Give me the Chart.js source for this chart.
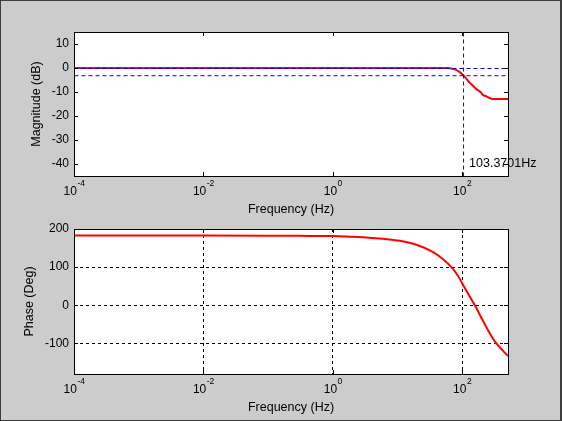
<!DOCTYPE html>
<html>
<head>
<meta charset="utf-8">
<script src="https://cdn.jsdelivr.net/npm/chart.js@4.4.0/dist/chart.umd.min.js"></script>
<style>
html,body{margin:0;padding:0;background:#cccccc;}
#wrap{position:relative;width:562px;height:421px;background:#cccccc;overflow:hidden;}
#wrap canvas{position:absolute;left:0;top:0;}
#frame{position:absolute;left:0;top:0;width:562px;height:421px;box-sizing:border-box;border:1px solid #3c3c3c;border-right-width:2px;pointer-events:none;}
</style>
</head>
<body>
<div id="wrap">
  <canvas id="c1" width="562" height="421"></canvas>
  <canvas id="c2" width="562" height="421"></canvas>
  <div id="frame"></div>
</div>
<script>
// ---- data ----
const xMinHz = 1e-4;
const xMaxHz = 512;
const xTickValues = [1e-4, 1e-2, 1, 100];
const xTickExponents = ['-4', '-2', '0', '2'];

const freqMagHz = [1e-4, 1e-2, 1, 10, 40, 60.7, 68, 76.9, 90, 103, 117, 131, 148, 166, 190, 210, 241, 270, 290, 350, 512];
const magDb     = [0, 0, 0, 0, 0, 0, -0.2, -0.6, -1.5, -2.9, -4.5, -6.1, -7.5, -8.8, -9.9, -11.2, -11.9, -12.6, -12.9, -12.9, -12.9];

const freqPhaseHz = [1e-4, 1e-3, 1e-2, 0.1, 0.3, 1, 1.8, 3.3, 6, 10.9, 19.7, 35.6, 50.8, 68.4, 86.5, 100, 117, 157, 210, 284, 339, 430, 512];
const phaseDeg    = [183, 183, 183, 182.5, 182, 181.5, 180, 178, 174.5, 169, 158.7, 139.5, 121, 100, 77, 58, 37.6, 0, -40.4, -80.8, -100, -119.5, -133];

const refLevelsDb = [0, -3];
const cutoffHz = 103.3701;

const magRange = [-45, 15];
const magTicks = [-40, -30, -20, -10, 0, 10];
const phaseRange = [-180, 200];
const phaseTicks = [-100, 0, 100, 200];

const FONT = '"Liberation Sans", Arial, sans-serif';

// ---- plugin drawing the MATLAB-style axes box, ticks, labels ----
function axesPlugin(cfg) {
  return {
    id: 'matlabAxes_' + cfg.id,
    beforeDraw(chart) {
      const a = chart.chartArea, ctx = chart.ctx;
      ctx.save();
      ctx.fillStyle = '#ffffff';
      ctx.fillRect(a.left, a.top, a.right - a.left, a.bottom - a.top);
      ctx.restore();
    },
    beforeDatasetDraw(chart, args) {
      chart.ctx.save();
      if (args.meta.dataset && args.meta.dataset.options.borderWidth === 1) {
        chart.ctx.translate(0.5, 0.5);
      }
    },
    afterDatasetDraw(chart) {
      chart.ctx.restore();
    },
    afterDraw(chart) {
      const a = chart.chartArea, ctx = chart.ctx;
      const xs = chart.scales.x, ys = chart.scales.y;
      ctx.save();
      // annotation text
      if (cfg.annot) {
        ctx.font = '12.5px ' + FONT;
        ctx.fillStyle = '#000';
        ctx.textAlign = 'left';
        ctx.textBaseline = 'middle';
        ctx.fillText(cfg.annot.text, xs.getPixelForValue(cfg.annot.x) + 6, ys.getPixelForValue(cfg.annot.y));
      }
      // box
      ctx.strokeStyle = '#000';
      ctx.lineWidth = 1;
      ctx.setLineDash([]);
      ctx.strokeRect(a.left + 0.5, a.top + 0.5, a.right - a.left, a.bottom - a.top);
      // inward ticks
      const tl = 4;
      ctx.beginPath();
      xTickValues.forEach(v => {
        const px = Math.round(xs.getPixelForValue(v)) + 0.5;
        ctx.moveTo(px, a.bottom); ctx.lineTo(px, a.bottom - tl);
        ctx.moveTo(px, a.top); ctx.lineTo(px, a.top + tl);
      });
      cfg.yTicks.forEach(v => {
        const py = Math.round(ys.getPixelForValue(v)) + 0.5;
        ctx.moveTo(a.left, py); ctx.lineTo(a.left + tl, py);
        ctx.moveTo(a.right, py); ctx.lineTo(a.right - tl, py);
      });
      ctx.stroke();
      // x tick labels 10^n
      ctx.fillStyle = '#000';
      ctx.textBaseline = 'middle';
      ctx.textAlign = 'left';
      xTickValues.forEach((v, i) => {
        const px = xs.getPixelForValue(v);
        ctx.font = '12px ' + FONT;
        const wb = ctx.measureText('10').width;
        ctx.font = '8.5px ' + FONT;
        const we = ctx.measureText(xTickExponents[i]).width;
        const x0 = px - (wb + we) / 2;
        ctx.font = '12px ' + FONT;
        ctx.fillText('10', x0, a.bottom + 16);
        ctx.font = '8.5px ' + FONT;
        ctx.fillText(xTickExponents[i], x0 + wb + 0.5, a.bottom + 8);
      });
      // x title
      ctx.font = '12.5px ' + FONT;
      ctx.textAlign = 'center';
      ctx.fillText(cfg.xTitle, (a.left + a.right) / 2, a.bottom + 34);
      // y title
      ctx.font = '12px ' + FONT;
      let mw = 0;
      cfg.yTicks.forEach(v => { mw = Math.max(mw, ctx.measureText(String(v)).width); });
      const tx = a.left - 5 - mw - 15;
      ctx.font = '12.5px ' + FONT;
      ctx.translate(tx, (a.top + a.bottom) / 2);
      ctx.rotate(-Math.PI / 2);
      ctx.textAlign = 'center';
      ctx.fillText(cfg.yTitle, 0, 0);
      ctx.restore();
    }
  };
}

function baseOptions(padTop, padBottom, yRange, yTicks, showGrid) {
  return {
    responsive: false,
    animation: false,
    events: [],
    layout: { padding: { top: padTop, bottom: padBottom, left: 0, right: 54 } },
    plugins: { legend: { display: false }, tooltip: { enabled: false } },
    elements: { point: { radius: 0 }, line: { tension: 0 } },
    scales: {
      x: {
        type: 'logarithmic',
        min: xMinHz, max: xMaxHz,
        afterBuildTicks: s => { s.ticks = xTickValues.map(v => ({ value: v })); },
        afterFit: s => { s.height = 0; },
        ticks: { display: false },
        grid: { display: showGrid, color: '#000', lineWidth: 1, drawTicks: false },
        border: { display: false, dash: [3, 3] }
      },
      y: {
        min: yRange[0], max: yRange[1],
        afterBuildTicks: s => { s.ticks = yTicks.map(v => ({ value: v })); },
        afterFit: s => { s.width = 74; },
        ticks: { color: '#000', font: { family: FONT, size: 12 }, padding: 5 },
        grid: { display: showGrid, color: '#000', lineWidth: 1, drawTicks: false },
        border: { display: false, dash: [3, 3] }
      }
    }
  };
}

// ---- magnitude chart ----
new Chart(document.getElementById('c1'), {
  type: 'line',
  data: {
    datasets: [
      ...refLevelsDb.map(l => ({
        data: [{ x: xMinHz, y: l }, { x: xMaxHz, y: l }],
        borderColor: '#0000ff', borderWidth: 1, borderDash: [4, 3], order: 1
      })),
      {
        data: [{ x: cutoffHz, y: magRange[0] }, { x: cutoffHz, y: magRange[1] }],
        borderColor: '#0000ff', borderWidth: 1, borderDash: [4, 3], order: 1
      },
      {
        data: freqMagHz.map((f, i) => ({ x: f, y: magDb[i] })),
        borderColor: '#ff0000', borderWidth: 2, order: 2, cubicInterpolationMode: 'monotone'
      }
    ]
  },
  options: baseOptions(32, 421 - 176, magRange, magTicks, false),
  plugins: [axesPlugin({ id: 'mag', yTicks: magTicks, xTitle: 'Frequency (Hz)', yTitle: 'Magnitude (dB)',
    annot: { x: cutoffHz, y: -40, text: cutoffHz.toFixed(4) + 'Hz' } })]
});

// ---- phase chart ----
new Chart(document.getElementById('c2'), {
  type: 'line',
  data: {
    datasets: [
      {
        data: freqPhaseHz.map((f, i) => ({ x: f, y: phaseDeg[i] })),
        borderColor: '#ff0000', borderWidth: 2, cubicInterpolationMode: 'monotone'
      }
    ]
  },
  options: baseOptions(229, 421 - 374, phaseRange, phaseTicks, true),
  plugins: [axesPlugin({ id: 'ph', yTicks: phaseTicks, xTitle: 'Frequency (Hz)', yTitle: 'Phase (Deg)' })]
});
</script>
</body>
</html>
